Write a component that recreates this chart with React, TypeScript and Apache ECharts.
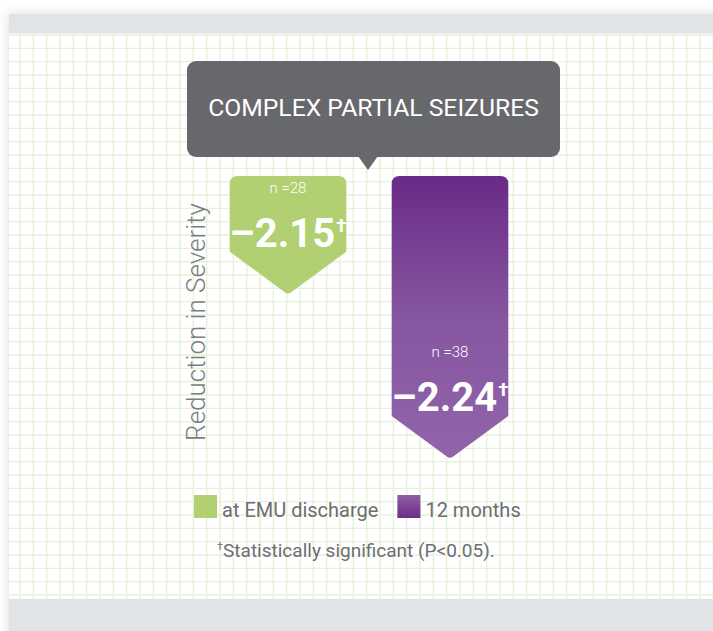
import React, { useEffect, useRef } from 'react';
import * as echarts from 'echarts';

const categories = ['at EMU discharge', '12 months'];
const values = [-2.15, -2.24];
const sampleSizes = [28, 38];
const chartTitle = 'COMPLEX PARTIAL SEIZURES';
const axisName = 'Reduction in Severity';
const footnoteMark = '†';
const footnoteText = 'Statistically significant (P<0.05).';
const axisMax = -2.085;
const axisMin = -2.245;

const GREEN = '#b0d072';
const GREY_TEXT = '#6d6e71';
const FONT = 'Roboto, "Noto Sans", sans-serif';

const makePurple = () =>
  new echarts.graphic.LinearGradient(0, 0, 0, 1, [
    { offset: 0, color: '#6a2a87' },
    { offset: 0.5, color: '#8656a0' },
    { offset: 1, color: '#9164aa' },
  ]);
const makePurpleLegend = () =>
  new echarts.graphic.LinearGradient(0, 0, 0, 1, [
    { offset: 0, color: '#8e5ea6' },
    { offset: 1, color: '#6d2d88' },
  ]);

function fmt(v: number) {
  return (v < 0 ? '–' : '') + Math.abs(v).toFixed(2);
}

function makeRender(fill: any) {
  return (params: any, api: any) => {
    const idx = api.value(0);
    const val = api.value(1);
    const tip = api.coord([idx, val]);
    const cx = tip[0];
    const tipY = tip[1];
    const topY = api.coord([idx, axisMax])[1];
    const w = api.size([1, 0])[0] * 0.72;
    const x0 = cx - w / 2;
    const x1 = cx + w / 2;
    const depth = 43;
    const r = 8;
    const tr = 4;
    const rb = tipY - depth;
    const dx = w / 2;
    const len = Math.hypot(dx, depth);
    const ux = (dx / len) * tr;
    const uy = (depth / len) * tr;
    const d =
      `M${x0},${topY + r} Q${x0},${topY} ${x0 + r},${topY} ` +
      `L${x1 - r},${topY} Q${x1},${topY} ${x1},${topY + r} ` +
      `L${x1},${rb} L${cx + ux},${tipY - uy} Q${cx},${tipY} ${cx - ux},${tipY - uy} ` +
      `L${x0},${rb} Z`;
    return {
      type: 'group',
      children: [
        { type: 'path', shape: { pathData: d }, style: { fill } },
        {
          type: 'text',
          style: {
            text: `n =${sampleSizes[idx]}`,
            x: cx,
            y: rb - 64,
            align: 'center',
            verticalAlign: 'middle',
            fill: '#ffffff',
            fontSize: 15,
            fontWeight: 300,
            fontFamily: FONT,
          },
        },
        {
          type: 'text',
          style: {
            text: `{v|${fmt(val)}}{d|†}`,
            x: cx,
            y: rb - 20,
            align: 'center',
            verticalAlign: 'middle',
            rich: {
              v: { fontSize: 40, fontWeight: 'bold', fill: '#ffffff', fontFamily: FONT, verticalAlign: 'bottom', lineHeight: 44 },
              d: { fontSize: 19, fontWeight: 'bold', fill: '#ffffff', fontFamily: FONT, verticalAlign: 'top', lineHeight: 19, padding: [6, 0, 0, 1] },
            },
          },
        },
      ],
    };
  };
}

function background() {
  const els: any[] = [];
  els.push({ type: 'rect', shape: { x: 0, y: 0, width: 713, height: 631 }, style: { fill: '#ffffff' }, silent: true });
  els.push({
    type: 'rect',
    shape: { x: 9, y: 14, width: 720, height: 640 },
    style: { fill: '#ffffff', shadowBlur: 12, shadowColor: 'rgba(0,0,0,0.14)' },
    silent: true,
  });
  const lineStyle = { stroke: '#e8f0da', lineWidth: 1.4 };
  for (let x = 20; x <= 714; x += 40 / 3) {
    els.push({ type: 'line', shape: { x1: x, y1: 34, x2: x, y2: 599 }, style: lineStyle, silent: true });
  }
  for (let y = 35; y <= 599; y += 40 / 3) {
    els.push({ type: 'line', shape: { x1: 9, y1: y, x2: 713, y2: y }, style: lineStyle, silent: true });
  }
  els.push({ type: 'rect', shape: { x: 9, y: 14, width: 710, height: 19.5 }, style: { fill: '#e1e4e7' }, silent: true });
  els.push({ type: 'rect', shape: { x: 9, y: 599, width: 710, height: 40 }, style: { fill: '#e1e4e7' }, silent: true });
  // callout
  els.push({ type: 'rect', shape: { x: 187, y: 61, width: 373, height: 96, r: 9 }, style: { fill: '#67686c' }, silent: true });
  els.push({ type: 'polygon', shape: { points: [[358, 156], [378, 156], [368, 170]] }, style: { fill: '#67686c' }, silent: true });
  els.push({
    type: 'text',
    style: {
      text: chartTitle,
      x: 373.5,
      y: 107,
      align: 'center',
      verticalAlign: 'middle',
      fill: '#ffffff',
      fontSize: 24.7,
      fontFamily: FONT,
    },
    silent: true,
  });
  els.push({
    type: 'text',
    style: {
      text: `{s|${footnoteMark}}{t|${footnoteText}}`,
      x: 217,
      y: 548,
      align: 'left',
      verticalAlign: 'middle',
      rich: {
        s: { fontSize: 11, fill: GREY_TEXT, fontFamily: FONT, verticalAlign: 'top', lineHeight: 11, padding: [5, 0, 0, 0] },
        t: { fontSize: 19, fill: GREY_TEXT, fontFamily: FONT, verticalAlign: 'bottom', lineHeight: 24 },
      },
    },
    silent: true,
  });
  return els;
}

export default function App() {
  const ref = useRef<HTMLDivElement>(null);
  useEffect(() => {
    if (!ref.current) return;
    const chart = echarts.init(ref.current, null, { renderer: 'svg' });
    const fills = [GREEN, makePurple()];
    chart.setOption({
      animation: false,
      graphic: { elements: background() },
      grid: { left: 207, width: 324, top: 176, height: 292, containLabel: false },
      xAxis: { type: 'category', data: categories, show: false },
      yAxis: {
        type: 'value',
        min: axisMin,
        max: axisMax,
        show: true,
        axisLine: { show: false },
        axisTick: { show: false },
        axisLabel: { show: false },
        splitLine: { show: false },
        name: axisName,
        nameLocation: 'middle',
        nameRotate: 90,
        nameGap: -2,
        nameTextStyle: { fontSize: 26, fontWeight: 300, color: '#7c7d80', fontFamily: FONT },
      },
      legend: {
        left: 194,
        top: 495,
        padding: 0,
        itemWidth: 23,
        itemHeight: 23,
        itemGap: 19,
        icon: 'rect',
        selectedMode: false,
        formatter: '{a|{name}}',
        textStyle: {
          fontSize: 20,
          color: GREY_TEXT,
          fontFamily: FONT,
          rich: { a: { fontSize: 20, color: GREY_TEXT, fontFamily: FONT, padding: [6, 0, 0, 0] } },
        },
        data: [
          { name: categories[0], itemStyle: { color: GREEN } },
          { name: categories[1], itemStyle: { color: makePurpleLegend() } },
        ],
      },
      series: categories.map((c, i) => ({
        type: 'custom',
        name: c,
        itemStyle: { color: i === 0 ? GREEN : '#8656a0' },
        encode: { x: 0, y: 1 },
        data: [[i, values[i]]],
        renderItem: makeRender(fills[i]),
        clip: false,
      })),
    });
    return () => chart.dispose();
  }, []);
  return <div ref={ref} style={{ position: 'absolute', left: 0, top: 0, width: 713, height: 631 }} />;
}
